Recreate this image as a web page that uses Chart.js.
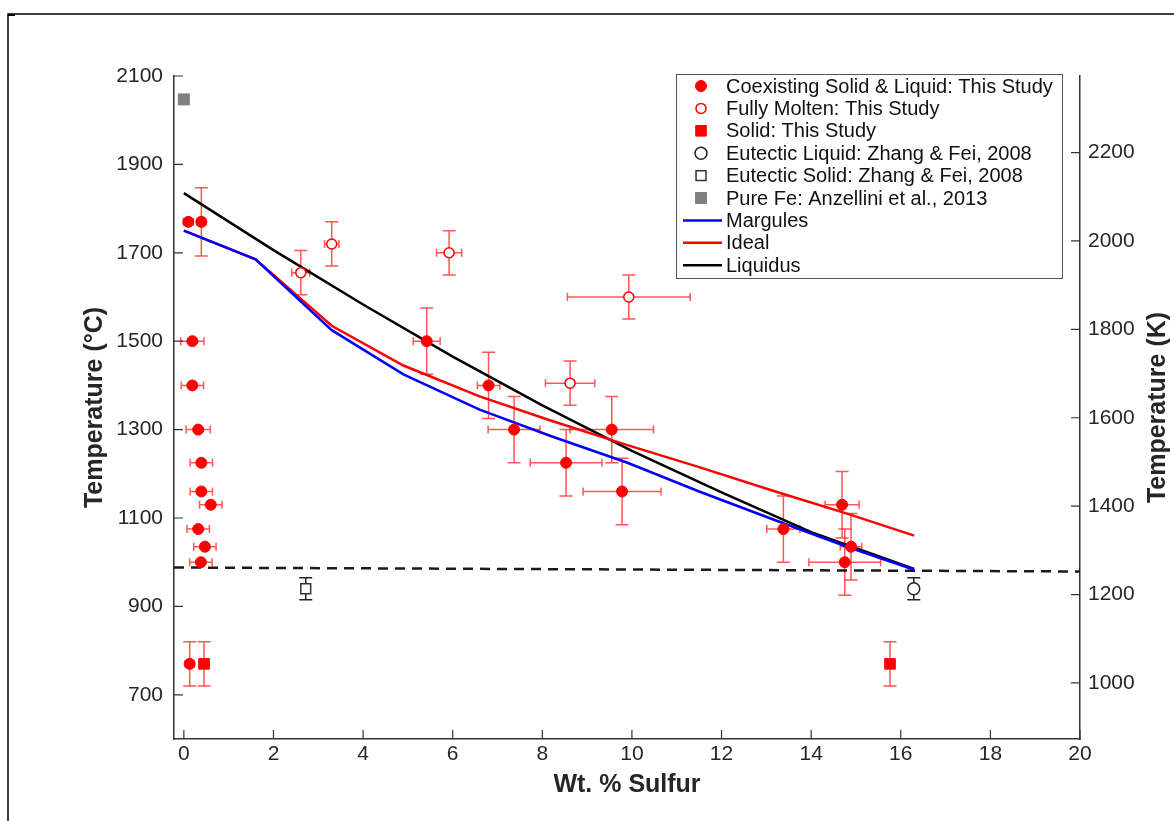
<!DOCTYPE html>
<html>
<head>
<meta charset="utf-8">
<script src="https://cdn.jsdelivr.net/npm/chart.js@4.4.0/dist/chart.umd.min.js"></script>
<style>
body { margin: 0; background: #fff; }
#wrap { position: relative; width: 1174px; height: 821px; }
</style>
</head>
<body>
<div id="wrap"><canvas id="chart"></canvas></div>
<script>
// Coexisting Solid & Liquid: This Study
const coexWt    = [0.10, 0.39, 0.19, 0.19, 0.32, 0.39, 0.39, 0.60, 0.32, 0.47, 0.38, 5.42, 6.80, 7.37, 8.53, 9.55, 9.78, 13.38, 14.69, 14.89, 14.75, 0.13];
const coexT     = [1770, 1770, 1500, 1400, 1300, 1225, 1160, 1130, 1075, 1035, 1000, 1500, 1400, 1300, 1225, 1300, 1160, 1075, 1130, 1035, 1000, 770];
const coexWtErr = [0.11, 0.10, 0.26, 0.25, 0.27, 0.25, 0.25, 0.25, 0.25, 0.25, 0.25, 0.30, 0.25, 0.58, 0.80, 0.93, 0.87, 0.37, 0.38, 0.24, 0.80, 0.10];
const coexTErr  = [0, 77, 0, 0, 0, 0, 0, 0, 0, 0, 0, 75, 75, 75, 75, 75, 75, 75, 75, 75, 75, 50];

// Fully Molten: This Study
const moltenWt    = [2.61, 3.30, 5.92, 8.62, 9.93];
const moltenT     = [1655, 1720, 1700, 1405, 1600];
const moltenWtErr = [0.20, 0.16, 0.28, 0.55, 1.37];
const moltenTErr  = [50, 50, 50, 50, 50];

// Solid: This Study
const solidWt    = [0.45, 15.76];
const solidT     = [770, 770];
const solidWtErr = [0.10, 0];
const solidTErr  = [50, 50];

// Zhang & Fei, 2008
const eutLiqWt = [16.29];
const eutLiqT  = [940];
const eutLiqTErr = [25];
const eutSolWt = [2.72];
const eutSolT  = [940];
const eutSolTErr = [25];

// Pure Fe: Anzellini et al., 2013
const pureFeWt = [0.0];
const pureFeT  = [2047];

// model curves
const margulesWt = [0, 1.6, 3.3, 4.9, 6.6, 8.2, 9.9, 11.5, 13.2, 14.8, 16.3];
const margulesT  = [1750, 1685, 1525, 1425, 1345, 1285, 1225, 1160, 1095, 1035, 983];
const idealWt = [0, 1.6, 3.3, 4.9, 6.6, 8.2, 9.9, 11.5, 13.2, 14.8, 16.3];
const idealT  = [1750, 1685, 1535, 1445, 1375, 1320, 1265, 1215, 1160, 1110, 1060];
const liquidusWt = [0, 2, 4, 6, 8, 10, 12, 14, 16.3];
const liquidusT  = [1835, 1706, 1583, 1465, 1355, 1252, 1158, 1068, 985];

// eutectic temperature (dashed)
const eutecticWt = [-0.22, 20];
const eutecticT  = [988, 979];

// axes
const xTicks  = [0, 2, 4, 6, 8, 10, 12, 14, 16, 18, 20];
const yTicks  = [700, 900, 1100, 1300, 1500, 1700, 1900, 2100];
const yKTicks = [1000, 1200, 1400, 1600, 1800, 2000, 2200];

const FONT = "'Liberation Sans', Arial, Helvetica, sans-serif";
const AXIS = '#333333';
const TEXT = '#262626';
const RED = '#ff0000';
const RED_ERR = 'rgba(255, 30, 30, 0.75)';

function pts(xs, ys) {
    return xs.map((x, i) => ({ x: x, y: ys[i] }));
}

const datasets = [
    { label: 'Coexisting Solid & Liquid: This Study', data: pts(coexWt, coexT), xErr: coexWtErr, yErr: coexTErr, errColor: RED_ERR,
      pointStyle: 'circle', pointRadius: 5.5, backgroundColor: RED, borderColor: RED, borderWidth: 1, order: 0 },
    { label: 'Fully Molten: This Study', data: pts(moltenWt, moltenT), xErr: moltenWtErr, yErr: moltenTErr, errColor: RED_ERR,
      pointStyle: 'circle', pointRadius: 5, backgroundColor: '#ffffff', borderColor: RED, borderWidth: 1.5, order: 0 },
    { label: 'Solid: This Study', data: pts(solidWt, solidT), xErr: solidWtErr, yErr: solidTErr, errColor: RED_ERR,
      pointStyle: 'rect', pointRadius: 7.5, backgroundColor: RED, borderColor: RED, borderWidth: 1, order: 0 },
    { label: 'Eutectic Liquid: Zhang & Fei, 2008', data: pts(eutLiqWt, eutLiqT), yErr: eutLiqTErr, errColor: '#222222',
      pointStyle: 'circle', pointRadius: 6, backgroundColor: '#ffffff', borderColor: '#222222', borderWidth: 1.5, order: 0 },
    { label: 'Eutectic Solid: Zhang & Fei, 2008', data: pts(eutSolWt, eutSolT), yErr: eutSolTErr, errColor: '#222222',
      pointStyle: 'rect', pointRadius: 7, backgroundColor: '#ffffff', borderColor: '#333333', borderWidth: 1.5, order: 0 },
    { label: 'Pure Fe: Anzellini et al., 2013', data: pts(pureFeWt, pureFeT),
      pointStyle: 'rect', pointRadius: 7.8, backgroundColor: '#808080', borderColor: '#808080', borderWidth: 1, order: 0 },
    { label: 'Margules', data: pts(margulesWt, margulesT), showLine: true, pointRadius: 0,
      borderColor: '#0000ff', borderWidth: 2.5, order: 1 },
    { label: 'Ideal', data: pts(idealWt, idealT), showLine: true, pointRadius: 0,
      borderColor: '#ff0000', borderWidth: 2.5, order: 1 },
    { label: 'Liquidus', data: pts(liquidusWt, liquidusT), showLine: true, pointRadius: 0,
      borderColor: '#000000', borderWidth: 2.5, order: 1 },
    { label: 'Eutectic', data: pts(eutecticWt, eutecticT), showLine: true, pointRadius: 0, noLegend: true,
      borderColor: '#1a1a1a', borderWidth: 2.5, borderDash: [10, 7], order: 1 }
];

// draw a marker the same way for plot and legend
function marker(ctx, ds, x, y) {
    const r = ds.pointRadius;
    ctx.beginPath();
    if (ds.pointStyle === 'rect') {
        const s = r * Math.SQRT1_2;
        ctx.rect(x - s, y - s, 2 * s, 2 * s);
    } else {
        ctx.arc(x, y, r, 0, Math.PI * 2);
    }
    ctx.fillStyle = ds.backgroundColor;
    ctx.fill();
    ctx.lineWidth = ds.borderWidth;
    ctx.strokeStyle = ds.borderColor;
    ctx.stroke();
}

// outer frame lines
const framePlugin = {
    id: 'frame',
    beforeDraw(chart) {
        const ctx = chart.ctx;
        ctx.save();
        ctx.strokeStyle = '#000';
        ctx.lineWidth = 1.5;
        ctx.beginPath();
        ctx.moveTo(8, 821);
        ctx.lineTo(8, 14);
        ctx.lineTo(1174, 14);
        ctx.stroke();
        ctx.fillStyle = '#000';
        ctx.fillRect(8, 14, 7, 2);
        ctx.restore();
    }
};

// error bars below the markers
const errorBars = {
    id: 'errorBars',
    beforeDatasetsDraw(chart) {
        const ctx = chart.ctx;
        const xs = chart.scales.x, ys = chart.scales.y;
        ctx.save();
        ctx.lineWidth = 1.5;
        chart.data.datasets.forEach(ds => {
            if (!ds.xErr && !ds.yErr) return;
            ctx.strokeStyle = ds.errColor;
            ds.data.forEach((p, i) => {
                const px = xs.getPixelForValue(p.x), py = ys.getPixelForValue(p.y);
                ctx.beginPath();
                const ey = ds.yErr ? ds.yErr[i] : 0;
                if (ey > 0) {
                    const t = ys.getPixelForValue(p.y + ey), b = ys.getPixelForValue(p.y - ey);
                    ctx.moveTo(px, t); ctx.lineTo(px, b);
                    ctx.moveTo(px - 6.5, t); ctx.lineTo(px + 6.5, t);
                    ctx.moveTo(px - 6.5, b); ctx.lineTo(px + 6.5, b);
                }
                const ex = ds.xErr ? ds.xErr[i] : 0;
                if (ex > 0) {
                    const l = xs.getPixelForValue(p.x - ex), r = xs.getPixelForValue(p.x + ex);
                    ctx.moveTo(l, py); ctx.lineTo(r, py);
                    ctx.moveTo(l, py - 4); ctx.lineTo(l, py + 4);
                    ctx.moveTo(r, py - 4); ctx.lineTo(r, py + 4);
                }
                ctx.stroke();
            });
        });
        ctx.restore();
    }
};

// ticks pointing into the plot, right axis title, legend box
const decorations = {
    id: 'decorations',
    afterDraw(chart) {
        const ctx = chart.ctx;
        const a = chart.chartArea;
        const len = 9;
        ctx.save();
        ctx.strokeStyle = AXIS;
        ctx.lineWidth = 1.2;
        ctx.beginPath();
        chart.scales.x.ticks.forEach(t => {
            const px = chart.scales.x.getPixelForValue(t.value);
            ctx.moveTo(px, a.bottom); ctx.lineTo(px, a.bottom - len);
        });
        chart.scales.y.ticks.forEach(t => {
            const py = chart.scales.y.getPixelForValue(t.value);
            ctx.moveTo(a.left, py); ctx.lineTo(a.left + len, py);
        });
        chart.scales.y2.ticks.forEach(t => {
            const py = chart.scales.y2.getPixelForValue(t.value);
            ctx.moveTo(a.right, py); ctx.lineTo(a.right - len, py);
        });
        ctx.stroke();

        // right axis title, reads bottom to top like the left one
        ctx.fillStyle = TEXT;
        ctx.font = 'bold 25px ' + FONT;
        ctx.textAlign = 'center';
        ctx.textBaseline = 'middle';
        ctx.translate(1158, (a.top + a.bottom) / 2);
        ctx.rotate(-Math.PI / 2);
        ctx.fillText('Temperature (K)', 0, 0);
        ctx.setTransform(1, 0, 0, 1, 0, 0);
        ctx.restore();

        // legend
        ctx.save();
        const box = { x: 676, y: 74, w: 386, h: 204 };
        ctx.fillStyle = '#fff';
        ctx.fillRect(box.x, box.y, box.w, box.h);
        ctx.strokeStyle = '#555';
        ctx.lineWidth = 1;
        ctx.strokeRect(box.x + 0.5, box.y + 0.5, box.w, box.h);
        ctx.font = '20px ' + FONT;
        ctx.textBaseline = 'middle';
        ctx.textAlign = 'left';
        chart.data.datasets.filter(ds => !ds.noLegend).forEach((ds, i) => {
            const cy = box.y + 12 + i * 22.4;
            if (ds.showLine) {
                ctx.strokeStyle = ds.borderColor;
                ctx.lineWidth = ds.borderWidth;
                ctx.setLineDash([]);
                ctx.beginPath();
                ctx.moveTo(683, cy); ctx.lineTo(722, cy);
                ctx.stroke();
            } else {
                marker(ctx, ds, 701, cy);
            }
            ctx.fillStyle = '#111';
            ctx.fillText(ds.label, 726, cy + 1);
        });
        ctx.restore();
    }
};

const plainLabel = v => String(v);

new Chart(document.getElementById('chart'), {
    type: 'scatter',
    data: { datasets: datasets },
    options: {
        responsive: true,
        maintainAspectRatio: false,
        animation: false,
        layout: { padding: { top: 76, left: 0, right: 0, bottom: 0 } },
        plugins: { legend: { display: false }, tooltip: { enabled: false } },
        scales: {
            x: {
                type: 'linear', position: 'bottom', min: -0.22, max: 20,
                afterBuildTicks: s => { s.ticks = xTicks.map(v => ({ value: v })); },
                afterFit: s => { s.height = 82; },
                grid: { display: false, drawTicks: false },
                border: { display: true, color: AXIS, width: 1.5 },
                ticks: { color: TEXT, font: { size: 21, family: FONT }, padding: 3, maxRotation: 0, callback: plainLabel },
                title: { display: true, text: 'Wt. % Sulfur', color: TEXT,
                         font: { size: 25, weight: 'bold', family: FONT }, padding: { top: 0, bottom: 21 } }
            },
            y: {
                type: 'linear', position: 'left', min: 600, max: 2100,
                afterBuildTicks: s => { s.ticks = yTicks.map(v => ({ value: v })); },
                afterFit: s => { s.width = 174; },
                grid: { display: false, drawTicks: false },
                border: { display: true, color: AXIS, width: 1.5 },
                ticks: { color: TEXT, font: { size: 21, family: FONT }, padding: 11, callback: plainLabel },
                title: { display: true, text: 'Temperature (°C)', color: TEXT,
                         font: { size: 25, weight: 'bold', family: FONT }, padding: { top: 80, bottom: 0 } }
            },
            y2: {
                type: 'linear', position: 'right', min: 873.15, max: 2373.15,
                afterBuildTicks: s => { s.ticks = yKTicks.map(v => ({ value: v })); },
                afterFit: s => { s.width = 94; },
                grid: { display: false, drawTicks: false },
                border: { display: true, color: AXIS, width: 1.5 },
                ticks: { color: TEXT, font: { size: 21, family: FONT }, padding: 8, callback: plainLabel }
            }
        }
    },
    plugins: [framePlugin, errorBars, decorations]
});
</script>
</body>
</html>
